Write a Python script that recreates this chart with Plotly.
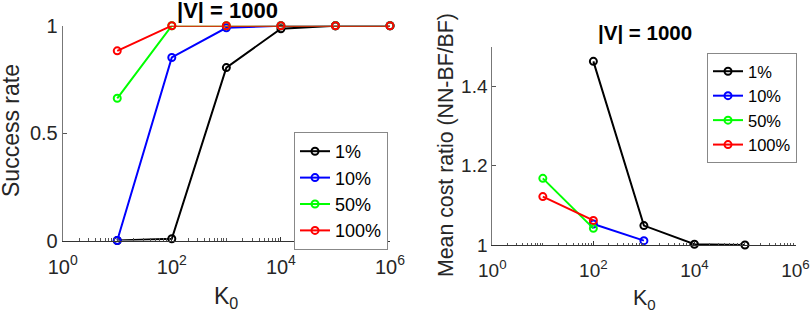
import plotly.graph_objects as go

# ---- data ----
series_names = ["1%", "10%", "50%", "100%"]
series_colors = ["#000000", "#0000ff", "#00ff00", "#ff0000"]

# Left: success rate vs K0
k0_left = [10, 100, 1000, 10000, 100000, 1000000]
success_1 = [0.0, 0.008, 0.805, 0.986, 1.0, 1.0]
success_10 = [0.0, 0.852, 0.99, 1.0, 1.0, 1.0]
success_50 = [0.662, 1.0, 1.0, 1.0, 1.0, 1.0]
success_100 = [0.883, 1.0, 1.0, 1.0, 1.0, 1.0]

# Right: mean cost ratio vs K0
k0_r1 = [100, 1000, 10000, 100000]
cost_1 = [1.463, 1.049, 1.002, 1.0]
k0_r10 = [100, 1000]
cost_10 = [1.053, 1.011]
k0_r50 = [10, 100]
cost_50 = [1.168, 1.042]
k0_r100 = [10, 100]
cost_100 = [1.122, 1.062]

x_tickvals = [1, 100, 10000, 1000000]
x_ticktext = ["10<sup>0</sup>", "10<sup>2</sup>", "10<sup>4</sup>", "10<sup>6</sup>"]
left_title = "<b>|V| = 1000</b>"
right_title = "<b>|V| = 1000</b>"

FONT = "Liberation Sans, Arial, sans-serif"
TXT = "#262626"

fig = go.Figure()

left_y = [success_1, success_10, success_50, success_100]
for name, col, ys in zip(series_names, series_colors, left_y):
    fig.add_trace(go.Scatter(
        x=k0_left, y=ys, name=name, mode="lines+markers",
        line=dict(color=col, width=2),
        marker=dict(symbol="circle-open", size=7, color=col, line=dict(width=2)),
        cliponaxis=False, xaxis="x", yaxis="y", legend="legend"))

right_x = [k0_r1, k0_r10, k0_r50, k0_r100]
right_y = [cost_1, cost_10, cost_50, cost_100]
for name, col, xs, ys in zip(series_names, series_colors, right_x, right_y):
    fig.add_trace(go.Scatter(
        x=xs, y=ys, name=name, mode="lines+markers",
        line=dict(color=col, width=2),
        marker=dict(symbol="circle-open", size=7, color=col, line=dict(width=2)),
        cliponaxis=False, xaxis="x2", yaxis="y2", legend="legend2"))

W, H = 812, 314
def px_x(p): return p / W
def px_y(p): return 1 - p / H

def xaxis_cfg(fs):
    return dict(
        type="log", range=[0, 6], tickvals=x_tickvals, ticktext=x_ticktext,
        ticks="inside", ticklen=4, tickcolor="#333333", showline=True,
        linecolor="#333333", linewidth=1, showgrid=False, zeroline=False,
        automargin=False, ticklabelstandoff=8,
        tickfont=dict(family=FONT, size=fs, color=TXT),
        minor=dict(ticks="inside", ticklen=2.5, tickcolor="#555555", dtick="D1", showgrid=False),
    )

def yaxis_cfg(fs):
    return dict(
        ticks="inside", ticklen=4, tickcolor="#555555", showline=True,
        linecolor="#777777", linewidth=1, showgrid=False, zeroline=False,
        automargin=False,
        tickfont=dict(family=FONT, size=fs, color=TXT),
    )

fig.update_layout(
    width=W, height=H, margin=dict(l=0, r=0, t=0, b=0, autoexpand=False),
    paper_bgcolor="white", plot_bgcolor="white",
    font=dict(family=FONT, color=TXT),
    xaxis=dict(domain=[px_x(62.7), px_x(390)], anchor="y", **xaxis_cfg(20)),
    yaxis=dict(domain=[px_y(240.5), px_y(25.7)], anchor="x", range=[0, 1],
               tickvals=[0, 0.5, 1], ticktext=["0", "0.5", "1"], **yaxis_cfg(20)),
    xaxis2=dict(domain=[px_x(492.3), px_x(795.5)], anchor="y2", **xaxis_cfg(19)),
    yaxis2=dict(domain=[px_y(245), px_y(46.7)], anchor="x2", range=[1, 1.5],
                tickvals=[1, 1.2, 1.4], ticktext=["1", "1.2", "1.4"], **yaxis_cfg(19)),
    legend=dict(x=px_x(294), y=px_y(132), xanchor="left", yanchor="top",
                bgcolor="white", bordercolor="#888888", borderwidth=1,
                font=dict(family=FONT, size=18, color="#000000"),
                tracegroupgap=0, itemwidth=30),
    legend2=dict(x=px_x(707), y=px_y(53), xanchor="left", yanchor="top",
                 bgcolor="white", bordercolor="#888888", borderwidth=1,
                 font=dict(family=FONT, size=16.5, color="#000000"),
                 tracegroupgap=0, itemwidth=30),
    showlegend=True,
)

ann = [
    dict(text=left_title, x=px_x(227), y=px_y(11), font=dict(size=22, color="#000000")),
    dict(text=right_title, x=px_x(644.5), y=px_y(32.5), font=dict(size=20.5, color="#000000")),
    dict(text="K<sub>0</sub>", x=px_x(226), y=px_y(297), font=dict(size=23)),
    dict(text="K<sub>0</sub>", x=px_x(644), y=px_y(299), font=dict(size=21.5)),
    dict(text="Success rate", x=px_x(11), y=px_y(131), textangle=-90, font=dict(size=23)),
    dict(text="Mean cost ratio (NN-BF/BF)", x=px_x(446), y=px_y(145), textangle=-90, font=dict(size=21.3)),
]
for a in ann:
    a.update(xref="paper", yref="paper", showarrow=False, xanchor="center", yanchor="middle")
    a["font"].setdefault("color", TXT)
    a["font"]["family"] = FONT
fig.update_layout(annotations=ann)

fig.write_html("out.html", config={"displayModeBar": False},
               post_script="document.body.style.margin='0';")
